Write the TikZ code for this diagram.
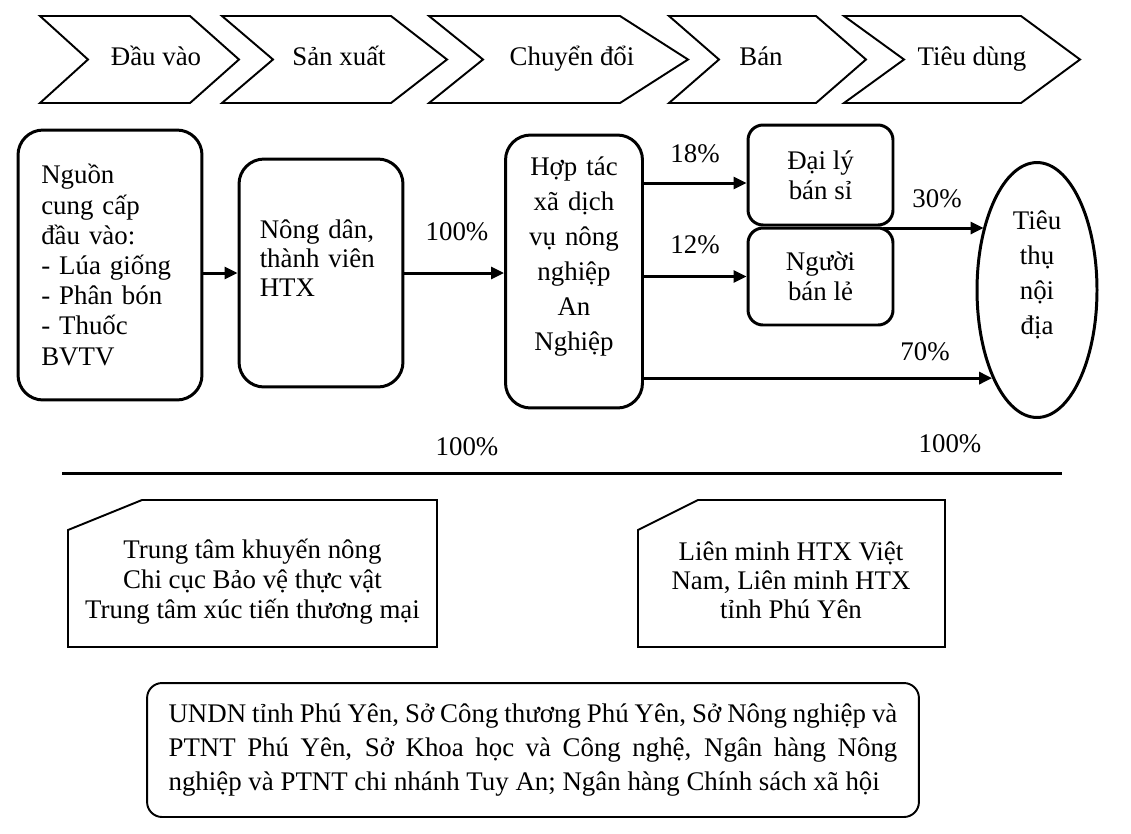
\documentclass[tikz,border=0pt]{standalone}
\usepackage{fontspec}
\setmainfont{Liberation Serif}
\usetikzlibrary{arrows.meta, shapes.geometric}

\tikzset{
  kasten/.style={draw, line width=1.7pt, rounded corners=0.5cm, inner sep=0pt},
  pfeil/.style={line width=1.7pt, -{Triangle[length=0.26cm, width=0.24cm]}},
  stufe/.style={line width=1.1pt, line join=miter},
  rahmen/.style={line width=1.1pt},
  schrift/.style={font=\fontsize{15.3}{#1}\selectfont},
  schrift/.default=17,
  etikett/.style={schrift, text height=1.45ex, text depth=0pt}
}

\begin{document}
\begin{tikzpicture}[x=0.02cm, y=-0.02cm]
        % Bildrahmen
        \useasboundingbox (0,0) rectangle (1131,833);

        % Stufen der Wertschoepfungskette
        \draw[stufe] (40,16) -- (190,16) -- (239,59.5) -- (190,103) -- (40,103) -- (88,59.5) -- cycle;
        \draw[stufe] (222,16) -- (391,16) -- (447,59.5) -- (391,103) -- (222,103) -- (273,59.5) -- cycle;
        \draw[stufe] (429,16) -- (620,16) -- (688,59.5) -- (620,103) -- (429,103) -- (483,59.5) -- cycle;
        \draw[stufe] (669,16) -- (816,16) -- (866,59.5) -- (816,103) -- (669,103) -- (719,59.5) -- cycle;
        \draw[stufe] (844,16) -- (1021,16) -- (1080,59.5) -- (1021,103) -- (844,103) -- (904,59.5) -- cycle;
        \node[etikett] (dauvao) at (156,59.5) {Đầu vào};
        \node[etikett] (sanxuat) at (339,59.5) {Sản xuất};
        \node[etikett] (chuyendoi) at (572,59.5) {Chuyển đổi};
        \node[etikett] (ban) at (761,59.5) {Bán};
        \node[etikett] (tieudung) at (972,59.5) {Tiêu dùng};

        % Akteure
        \node[kasten, schrift=17.2, minimum width=3.68cm, minimum height=5.4cm, text width=2.75cm, align=left] (nguon) at (110,265)
            {Nguồn\\ cung cấp\\ đầu vào:\\ - Lúa giống\\ - Phân bón\\ - Thuốc\\ BVTV};
        \node[kasten, schrift=16.5, minimum width=3.28cm, minimum height=4.56cm, text width=2.45cm, align=left] (nongdan) at (321,273)
            {Nông dân,\\ thành viên\\ HTX\\ \mbox{}};
        \node[kasten, schrift=19.9, minimum width=2.74cm, minimum height=5.46cm, text width=2.5cm, align=center] (htx) at (574,271.5)
            {Hợp tác\\ xã dịch\\ vụ nông\\ nghiệp\\ An\\ Nghiệp\\ \mbox{}};
        \node[kasten, schrift=17, rounded corners=0.3cm, minimum width=2.9cm, minimum height=2cm, align=center] (daily) at (820.5,175)
            {Đại lý\\ bán sỉ};
        \node[kasten, schrift=17, rounded corners=0.3cm, minimum width=2.9cm, minimum height=1.94cm, align=center] (nguoiban) at (820.5,276.5)
            {Người\\ bán lẻ};
        \node[draw, ellipse, line width=1.7pt, inner sep=0pt, schrift=19.9, minimum width=2.4cm, minimum height=5.1cm, align=center] (tieuthu) at (1037,290)
            {Tiêu\\ thụ\\ nội\\ địa\\ \mbox{}};

        % Warenfluss
        \coordinate (hoehe18) at (0,183);
        \coordinate (sammel) at (883,228);
        \draw[pfeil] (nongdan.west -| nguon.east) -- (nongdan.west);
        \draw[pfeil] (nongdan.east) -- (nongdan.east -| htx.west);
        \draw[pfeil] (htx.east |- hoehe18) -- (daily.west |- hoehe18);
        \draw[pfeil] (htx.east |- nguoiban.west) -- (nguoiban.west);
        \draw[pfeil] (htx.east |- tieuthu.243.7) -- (tieuthu.243.7);
        \draw[pfeil] (sammel) -- (sammel -| tieuthu.130.2);

        % Anteile
        \node[etikett] (anteil100a) at (457,235) {100\%};
        \node[etikett] (anteil18) at (695,157) {18\%};
        \node[etikett] (anteil12) at (695,248) {12\%};
        \node[etikett] (anteil30) at (937,202) {30\%};
        \node[etikett] (anteil70) at (925,355) {70\%};
        \node[etikett] (anteil100b) at (467,450) {100\%};
        \node[etikett] (anteil100c) at (950,447) {100\%};

        % Trennlinie
        \draw[line width=1.7pt] (62,473) -- (1062,473);

        % Unterstuetzende Stellen
        \draw[rahmen] (68,530) -- (142,500) -- (437,500) -- (437,647) -- (68,647) -- cycle;
        \node[schrift=17, align=center] (khuyennong) at (252.5,582)
            {Trung tâm khuyến nông\\ Chi cục Bảo vệ thực vật\\ Trung tâm xúc tiến thương mại};
        \draw[rahmen] (638,530) -- (698,500) -- (945,500) -- (945,647) -- (638,647) -- cycle;
        \node[schrift=16.5, align=center] (lienminh) at (791,580)
            {Liên minh HTX Việt\\ Nam, Liên minh HTX\\ tỉnh Phú Yên};

        % Behoerden und Banken
        \node[draw, rahmen, rounded corners=0.3cm, inner sep=0pt, schrift=19.6, minimum width=15.44cm, minimum height=2.68cm, text width=14.58cm, align=justify] (behoerden) at (533,750)
            {UNDN tỉnh Phú Yên, Sở Công thương Phú Yên, Sở Nông nghiệp và\linebreak PTNT Phú Yên, Sở Khoa học và Công nghệ, Ngân hàng Nông\linebreak nghiệp và PTNT chi nhánh Tuy An; Ngân hàng Chính sách xã hội};
    \end{tikzpicture}
\end{document}
